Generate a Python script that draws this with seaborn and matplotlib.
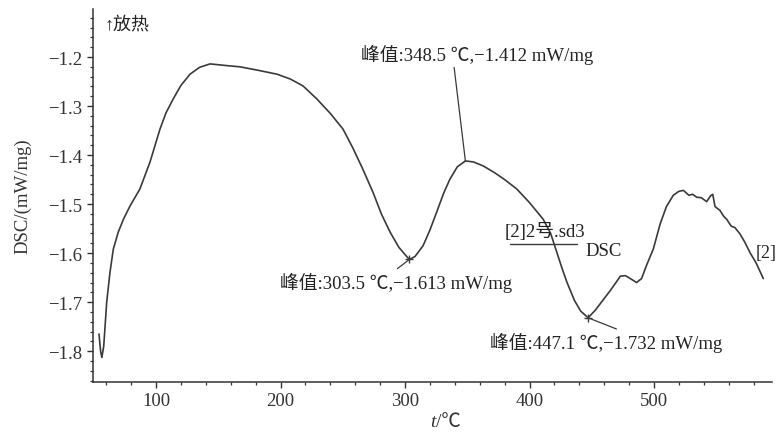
import matplotlib
matplotlib.use("Agg")
import matplotlib.pyplot as plt
import seaborn as sns
import pandas as pd
from matplotlib.ticker import MultipleLocator

# ---- data ----
temperature = [54.2, 55.5, 56.5, 58.0, 60.4, 63.0, 65.7, 69.7, 74.0, 79.1, 87.1, 95.2,
               103.2, 108.0, 113.7, 120.0, 127.3, 135.0, 143.4, 155.0, 167.5, 182.0,
               197.2, 208.0, 218.1, 229.0, 240.0, 250.2, 258.0, 266.0, 274.3, 281.0,
               288.0, 295.0, 301.4, 303.5, 308.0, 314.5, 320.0, 325.5, 331.0, 336.1,
               342.0, 348.5, 355.0, 362.7, 372.0, 380.0, 389.7, 400.0, 411.0, 417.0,
               421.9, 426.0, 430.0, 436.0, 441.0, 447.1, 453.0, 459.0, 465.0, 470.0,
               473.0, 477.0, 481.0, 486.0, 490.0, 494.0, 499.4, 505.0, 510.0, 515.5,
               520.0, 523.6, 528.0, 531.0, 534.3, 538.0, 542.3, 545.5, 547.2, 549.0,
               553.0, 556.0, 558.4, 562.0, 565.0, 569.1, 573.0, 577.1, 582.0, 587.8]
dsc = [-1.765, -1.800, -1.813, -1.790, -1.700, -1.640, -1.592, -1.557, -1.530, -1.504,
       -1.469, -1.414, -1.347, -1.314, -1.286, -1.258, -1.235, -1.221, -1.214, -1.217,
       -1.220, -1.227, -1.235, -1.245, -1.259, -1.285, -1.315, -1.347, -1.385, -1.428,
       -1.476, -1.520, -1.557, -1.588, -1.607, -1.613, -1.607, -1.585, -1.553, -1.516,
       -1.478, -1.449, -1.424, -1.412, -1.414, -1.422, -1.436, -1.450, -1.469, -1.497,
       -1.531, -1.560, -1.598, -1.630, -1.659, -1.696, -1.718, -1.732, -1.716, -1.696,
       -1.676, -1.658, -1.647, -1.646, -1.652, -1.660, -1.652, -1.625, -1.592, -1.540,
       -1.505, -1.482, -1.474, -1.472, -1.482, -1.480, -1.486, -1.487, -1.495, -1.483,
       -1.480, -1.505, -1.513, -1.525, -1.531, -1.545, -1.548, -1.561, -1.578, -1.599,
       -1.620, -1.652]

peak_t = [303.5, 348.5, 447.1]
peak_v = [-1.613, -1.412, -1.732]
peak_labels = ["峰值:303.5 ℃,−1.613 mW/mg",
               "峰值:348.5 ℃,−1.412 mW/mg",
               "峰值:447.1 ℃,−1.732 mW/mg"]
xticks = [100, 200, 300, 400, 500]
yticks = [-1.8, -1.7, -1.6, -1.5, -1.4, -1.3, -1.2]

df = pd.DataFrame({"t": temperature, "DSC": dsc})

sns.set_style("ticks")
fam = ["Liberation Serif", "Noto Sans CJK SC", "DejaVu Sans"]
plt.rcParams["font.family"] = fam

fig = plt.figure(figsize=(7.77, 4.35), dpi=100)
ax = fig.add_axes([0.1197, 0.1195, 0.8739, 0.8575])
line_col = "#3a3a3a"
txt_col = "#222222"
sns.lineplot(data=df, x="t", y="DSC", ax=ax, color=line_col, linewidth=1.2,
             sort=False, estimator=None)

ax.set_xlim(49.4, 594.8)
ax.set_ylim(-1.863, -1.102)
ax.set_xticks(xticks)
ax.set_yticks(yticks)
ax.set_yticklabels([f"{v:.1f}".replace("-", "−") for v in yticks])
ax.xaxis.set_minor_locator(MultipleLocator(20))
ax.yaxis.set_minor_locator(MultipleLocator(0.02))
ax.tick_params(axis="both", which="major", length=4, width=1.0, labelsize=13.5,
               colors="#333333", direction="out")
ax.tick_params(axis="both", which="minor", length=2.5, width=0.9, direction="out",
               colors="#333333")
for s in ["left", "bottom"]:
    ax.spines[s].set_color("#333333")
    ax.spines[s].set_linewidth(1.1)
sns.despine(ax=ax)

ax.set_xlabel("")
ax.set_ylabel("DSC/(mW/mg)", fontsize=13.5, color="#333333", labelpad=12)
# x label: italic t + "/℃"
ax.text(0.505, -0.082, "t", transform=ax.transAxes, fontsize=14, style="italic",
        color="#333333", ha="right", va="top", family=fam)
ax.text(0.505, -0.082, "/℃", transform=ax.transAxes, fontsize=14,
        color="#333333", ha="left", va="top", family=fam)

# peak markers
ax.plot([peak_t[0], peak_t[2]], [peak_v[0], peak_v[2]], "+", color=line_col,
        markersize=6, markeredgewidth=1.0)

ann_fs = 13.5
# 303.5 (minimum)
ax.annotate(peak_labels[0], xy=(peak_t[0], peak_v[0]), xytext=(199.6, -1.659),
            fontsize=ann_fs, color=txt_col, va="center", ha="left",
            arrowprops=dict(arrowstyle="-", color=line_col, lw=0.9,
                            shrinkA=0, shrinkB=0, relpos=(0.47, 0.85)))
# 348.5 (maximum)
ax.annotate(peak_labels[1], xy=(peak_t[1], peak_v[1]), xytext=(357.8, -1.194),
            fontsize=ann_fs, color=txt_col, va="center", ha="center",
            arrowprops=dict(arrowstyle="-", color=line_col, lw=0.9,
                            shrinkA=0, shrinkB=0, relpos=(0.4, 0.0)))
# 447.1 (minimum)
ax.annotate(peak_labels[2], xy=(peak_t[2], peak_v[2]), xytext=(368.3, -1.782),
            fontsize=ann_fs, color=txt_col, va="center", ha="left",
            arrowprops=dict(arrowstyle="-", color=line_col, lw=0.9,
                            shrinkA=0, shrinkB=0, relpos=(0.58, 1.0)))

# legend-like label
ax.text(380.3, -1.555, "[2]2号.sd3", fontsize=ann_fs, color=txt_col,
        va="center", ha="left")
ax.plot([384.3, 438.2], [-1.582, -1.582], color=line_col, lw=1.0)
ax.text(444.6, -1.594, "DSC", fontsize=ann_fs, color=txt_col, va="center", ha="left")
ax.text(581.5, -1.598, "[2]", fontsize=13, color=txt_col, va="center",
        ha="left", clip_on=False)

# exotherm direction
ax.text(58.5, -1.133, "↑放热", fontsize=13, color=txt_col, va="center", ha="left")

fig.savefig("out.png", dpi=100, facecolor="white")
